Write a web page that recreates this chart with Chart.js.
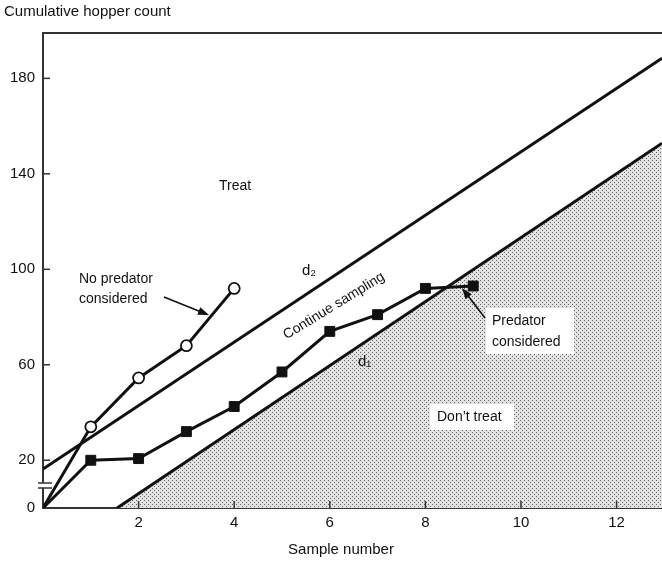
<!DOCTYPE html>
<html>
<head>
<meta charset="utf-8">
<script src="https://cdn.jsdelivr.net/npm/chart.js@4/dist/chart.umd.min.js"></script>
<style>
  html, body { margin: 0; padding: 0; background: #fff; overflow: hidden; }
  canvas { display: block; }
</style>
</head>
<body>
<canvas id="chart" width="662" height="564"></canvas>
<script>
// values
const sampleNumbers = [0, 1, 2, 3, 4, 5, 6, 7, 8, 9];
const noPredatorCount = [0, 34, 54.5, 68, 92];
const predatorCount = [0, 20, 20.7, 32, 42.5, 57, 74, 81, 92, 93];
const upperLineX = [0, 12.95];
const upperLineY = [16.3, 188.4];   // d2
const lowerLineX = [1.55, 12.95];
const lowerLineY = [0, 152.8];      // d1
const yTicks = [0, 20, 60, 100, 140, 180];
const xTicks = [2, 4, 6, 8, 10, 12];

const FONT = '"Liberation Sans", Arial, sans-serif';
const INK = '#111';

const toPoints = (xs, ys) => ys.map((y, i) => ({ x: xs[i], y }));

// dotted stipple for the "don't treat" region
function stipple() {
  const c = document.createElement('canvas');
  c.width = 4; c.height = 4;
  const g = c.getContext('2d');
  g.fillStyle = '#e2e2e2';
  g.fillRect(0, 0, 4, 4);
  g.fillStyle = '#666';
  g.fillRect(0, 0, 1, 1);
  g.fillRect(2, 2, 1, 1);
  return g.createPattern(c, 'repeat');
}

function arrow(ctx, x1, y1, x2, y2) {
  const a = Math.atan2(y2 - y1, x2 - x1);
  ctx.beginPath();
  ctx.moveTo(x1, y1);
  ctx.lineTo(x2 - 7 * Math.cos(a), y2 - 7 * Math.sin(a));
  ctx.stroke();
  ctx.beginPath();
  ctx.moveTo(x2, y2);
  ctx.lineTo(x2 - 11 * Math.cos(a) + 4 * Math.sin(a), y2 - 11 * Math.sin(a) - 4 * Math.cos(a));
  ctx.lineTo(x2 - 11 * Math.cos(a) - 4 * Math.sin(a), y2 - 11 * Math.sin(a) + 4 * Math.cos(a));
  ctx.closePath();
  ctx.fill();
}

const decorations = {
  id: 'decorations',
  afterDatasetsDraw(chart) {
    const { ctx, chartArea: a, scales: { x, y } } = chart;
    ctx.save();
    ctx.strokeStyle = '#333';
    ctx.fillStyle = INK;

    // top frame line
    ctx.lineWidth = 2;
    ctx.beginPath();
    ctx.moveTo(a.left, a.top);
    ctx.lineTo(a.right, a.top);
    ctx.stroke();

    // inward tick marks
    ctx.lineWidth = 1.5;
    yTicks.forEach(v => {
      if (v === 0) return;
      const py = y.getPixelForValue(v);
      ctx.beginPath(); ctx.moveTo(a.left, py); ctx.lineTo(a.left + 7, py); ctx.stroke();
    });
    xTicks.forEach(v => {
      const px = x.getPixelForValue(v);
      ctx.beginPath(); ctx.moveTo(px, a.bottom); ctx.lineTo(px, a.bottom - 7); ctx.stroke();
    });

    // axis break
    ctx.fillStyle = '#fff';
    ctx.fillRect(a.left - 2, 483, 4, 5);
    ctx.beginPath();
    ctx.moveTo(38, 483); ctx.lineTo(52, 483);
    ctx.moveTo(38, 488); ctx.lineTo(52, 488);
    ctx.stroke();

    // white boxes behind labels in the shaded area
    ctx.fillStyle = '#fff';
    ctx.fillRect(486, 308, 88, 46);
    ctx.fillRect(430, 404, 84, 26);

    ctx.fillStyle = INK;
    ctx.textBaseline = 'middle';
    ctx.textAlign = 'left';
    ctx.font = '14px ' + FONT;
    ctx.fillText('Treat', 219, 186);
    ctx.fillText('No predator', 79, 279);
    ctx.fillText('considered', 79, 299);
    ctx.fillText('Predator', 492, 321);
    ctx.fillText('considered', 492, 342);
    ctx.fillText("Don\u2019t treat", 437, 417);
    ctx.font = '15px ' + FONT;
    ctx.fillText('d\u2082', 302, 271);
    ctx.fillText('d\u2081', 358, 362);

    ctx.save();
    ctx.translate(334, 306);
    ctx.rotate(-31.5 * Math.PI / 180);
    ctx.textAlign = 'center';
    ctx.font = '14px ' + FONT;
    ctx.fillText('Continue sampling', 0, 0);
    ctx.restore();

    // arrows
    ctx.strokeStyle = INK;
    ctx.lineWidth = 1.6;
    arrow(ctx, 164, 297, 209, 315);
    arrow(ctx, 485, 318, 462, 288);

    ctx.restore();
  }
};

const axisTitles = {
  id: 'axisTitles',
  afterDraw(chart) {
    const ctx = chart.ctx;
    ctx.save();
    ctx.fillStyle = INK;
    ctx.font = '15px ' + FONT;
    ctx.textBaseline = 'middle';
    ctx.fillText('Cumulative hopper count', 4, 12);
    ctx.textAlign = 'center';
    ctx.fillText('Sample number', 341, 550);
    ctx.restore();
  }
};

new Chart(document.getElementById('chart'), {
  type: 'scatter',
  data: {
    datasets: [
      {
        label: 'd1',
        order: 10,
        data: toPoints(lowerLineX, lowerLineY),
        showLine: true,
        borderColor: INK,
        borderWidth: 3,
        pointRadius: 0,
        fill: 'start',
        backgroundColor: stipple()
      },
      {
        label: 'd2',
        order: 9,
        data: toPoints(upperLineX, upperLineY),
        showLine: true,
        borderColor: INK,
        borderWidth: 3,
        pointRadius: 0
      },
      {
        label: 'Predator considered',
        order: 2,
        data: toPoints(sampleNumbers, predatorCount),
        showLine: true,
        borderColor: INK,
        borderWidth: 3,
        pointStyle: 'rect',
        pointRadius: predatorCount.map((v, i) => i === 0 ? 0 : 7),
        pointBackgroundColor: INK,
        pointBorderColor: INK,
        pointBorderWidth: 1
      },
      {
        label: 'No predator considered',
        order: 1,
        data: toPoints(sampleNumbers, noPredatorCount),
        showLine: true,
        borderColor: INK,
        borderWidth: 3,
        pointStyle: 'circle',
        pointRadius: noPredatorCount.map((v, i) => i === 0 ? 0 : 5.5),
        pointBackgroundColor: '#fff',
        pointBorderColor: INK,
        pointBorderWidth: 1.8
      }
    ]
  },
  options: {
    responsive: false,
    animation: false,
    layout: { autoPadding: false, padding: { top: 33, left: 0, right: 0, bottom: 0 } },
    plugins: {
      legend: { display: false },
      tooltip: { enabled: false }
    },
    scales: {
      x: {
        type: 'linear',
        min: 0,
        max: 12.95,
        afterBuildTicks: s => { s.ticks = xTicks.map(v => ({ value: v })); },
        afterFit: s => { s.height = 56; s.paddingLeft = 0; s.paddingRight = 0; },
        grid: { display: false, drawTicks: false },
        border: { display: true, color: '#333', width: 2 },
        ticks: { color: INK, font: { family: FONT, size: 15 }, padding: 6 }
      },
      y: {
        type: 'linear',
        min: 0,
        max: 199,
        afterBuildTicks: s => { s.ticks = yTicks.map(v => ({ value: v })); },
        afterFit: s => { s.width = 43; s.paddingTop = 0; s.paddingBottom = 0; },
        grid: { display: false, drawTicks: false },
        border: { display: true, color: '#333', width: 2 },
        ticks: { color: INK, font: { family: FONT, size: 15 }, padding: 8 }
      }
    }
  },
  plugins: [decorations, axisTitles]
});
</script>
</body>
</html>
